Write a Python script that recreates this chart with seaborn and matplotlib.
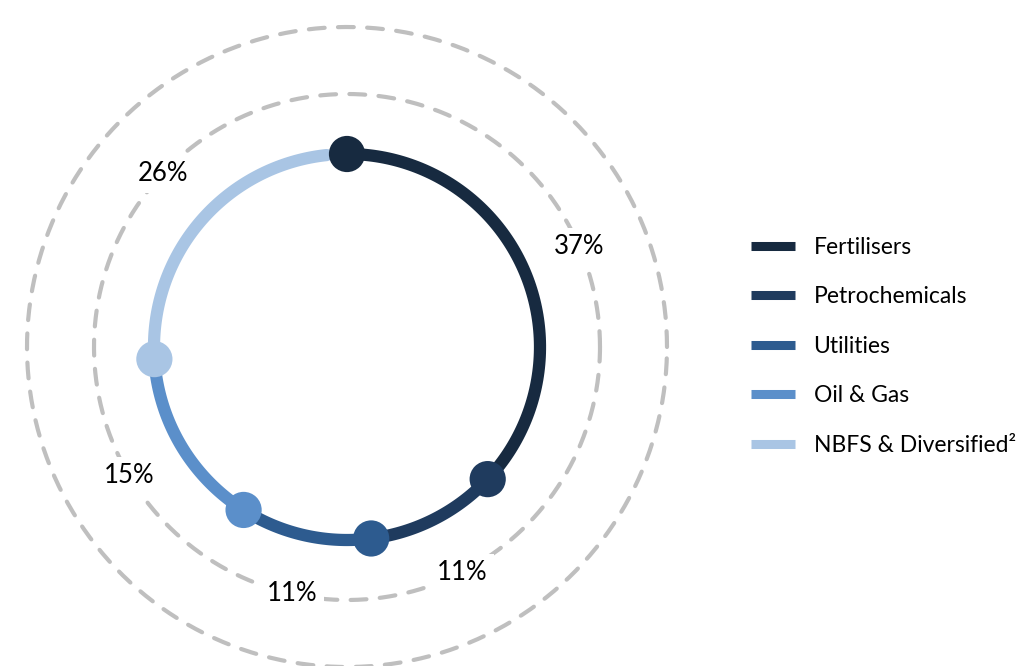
import numpy as np
import pandas as pd
import seaborn as sns
import matplotlib.pyplot as plt
from matplotlib.lines import Line2D

# Sector split (share of portfolio)
sectors = ['Fertilisers', 'Petrochemicals', 'Utilities', 'Oil & Gas', 'NBFS & Diversified²']
shares = [37, 11, 11, 15, 26]
share_labels = ['37%', '11%', '11%', '15%', '26%']
colors = ['#172A40', '#1F3B5E', '#2D5B8F', '#5B8FCA', '#A9C5E4']

sns.set_style('white')
plt.rcParams['font.family'] = ['Lato', 'DejaVu Sans']
plt.rcParams['text.color'] = 'black'

fig = plt.figure(figsize=(10.28, 6.66), dpi=100)
ax = fig.add_axes([0, 0, 1, 1])
# one data unit = one pixel, ring centred at the origin
ax.axis('off')

r_ring, r_inner, r_outer = 193, 253, 320
end_gap = 6  # degrees left open before the top

# build arc points clockwise from the top
rows, dots, mids = [], [], []
start = 90.0
for i, (name, s) in enumerate(zip(sectors, shares)):
    span = s / 100 * 360
    stop = start - span + (end_gap if i == len(sectors) - 1 else 0)
    ang = np.radians(np.linspace(start, stop, 120))
    for a in ang:
        rows.append({'sector': name, 'x': r_ring * np.cos(a), 'y': r_ring * np.sin(a)})
    a0 = np.radians(start)
    dots.append({'sector': name, 'x': r_ring * np.cos(a0), 'y': r_ring * np.sin(a0)})
    mids.append(np.radians(start - span / 2))
    start -= span

arcs = pd.DataFrame(rows)
dot_df = pd.DataFrame(dots)
pal = dict(zip(sectors, colors))

# dashed guide circles
t = np.linspace(0, 2 * np.pi, 400)
for r in (r_inner, r_outer):
    ax.plot(r * np.cos(t), r * np.sin(t), color='#BFBFBF', lw=3,
            ls=(0, (3.8, 3.2)), dash_capstyle='round', zorder=1)

sns.lineplot(data=arcs, x='x', y='y', hue='sector', hue_order=sectors, palette=pal,
             sort=False, estimator=None, lw=8.8, solid_capstyle='round',
             legend=False, ax=ax, zorder=2)
sns.scatterplot(data=dot_df, x='x', y='y', hue='sector', hue_order=sectors, palette=pal,
                s=680, linewidth=0, legend=False, ax=ax, zorder=3)

for lab, m in zip(share_labels, mids):
    ax.text(r_inner * np.cos(m), r_inner * np.sin(m), lab, ha='center', va='center',
            fontsize=18.5, color='black', zorder=4,
            bbox=dict(boxstyle='square,pad=0.25', fc='white', ec='none'))

ax.set_xlim(-347, 1028 - 347)
ax.set_ylim(-(666 - 347), 347)
ax.set_aspect('equal')
ax.set_xlabel('')
ax.set_ylabel('')

handles = [Line2D([0], [0], color=c, lw=6.5, solid_capstyle='butt') for c in colors]
ax.legend(handles, sectors, loc='center left', bbox_to_anchor=(0.710, 0.480),
          frameon=False, fontsize=16.5, handlelength=1.96, handletextpad=0.79,
          labelspacing=1.25, labelcolor='black')

fig.savefig('out.png', dpi=100)
